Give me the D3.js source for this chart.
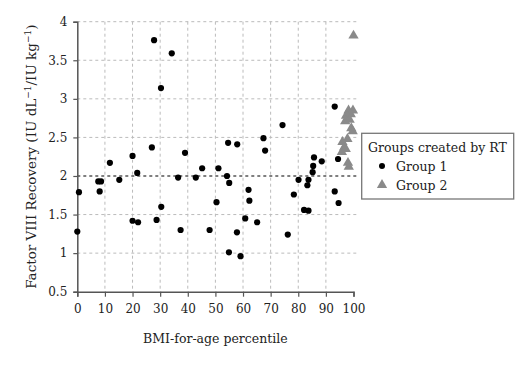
<!DOCTYPE html>
<html>
<head>
<meta charset="utf-8">
<script src="https://cdn.jsdelivr.net/npm/d3@7"></script>
<style>
  body { margin: 0; background: #fff; }
  text { font-family: "DejaVu Serif", serif; fill: #222; }
</style>
</head>
<body>
<svg id="chart" width="520" height="369"></svg>
<script>
// group 1 points: [BMI-for-age percentile, FVIII recovery]
const group1 = [
    [0, 1.28], [0.6, 1.79], [7.6, 1.93], [8.6, 1.93], [8.1, 1.80], [11.8, 2.17],
    [15.2, 1.95], [20, 2.26], [21.7, 2.04], [20, 1.42], [22, 1.40], [27, 2.37],
    [27.8, 3.76], [28.7, 1.43], [30.3, 3.14], [30.4, 1.60], [34.2, 3.59], [36.5, 1.98],
    [37.4, 1.30], [39, 2.30], [42.9, 1.98], [45.2, 2.10], [47.9, 1.30], [50.4, 1.66],
    [51.1, 2.10], [54.2, 2.00], [54.6, 2.43], [55.0, 1.91], [54.9, 1.01], [57.8, 1.27],
    [57.9, 2.41], [59.1, 0.96], [60.8, 1.45], [62, 1.82], [62.3, 1.68], [65.1, 1.40],
    [67.4, 2.49], [68, 2.33], [74.3, 2.66], [76.2, 1.24], [78.4, 1.76], [80.1, 1.95],
    [82.1, 1.56], [83.3, 1.88], [83.7, 1.95], [83.7, 1.55], [85.2, 2.05], [85.4, 2.13],
    [85.7, 2.24], [88.5, 2.19], [93.2, 2.90], [93.2, 1.80], [94.4, 2.22], [94.6, 1.65]
];
const group2 = [
    [100, 3.82], [98.2, 2.85], [99.8, 2.85], [97.3, 2.78], [99, 2.80], [97, 2.71],
    [98.6, 2.73], [99.2, 2.62], [99.7, 2.58], [97.8, 2.48], [96.0, 2.44], [96.6, 2.37],
    [95.8, 2.31], [97.2, 2.35], [98, 2.17], [98.3, 2.12]
];
const xTicks = [0, 10, 20, 30, 40, 50, 60, 70, 80, 90, 100];
const yTicks = [0.5, 1, 1.5, 2, 2.5, 3, 3.5, 4];
const legendLabels = ["Group 1", "Group 2"];

const svg = d3.select("#chart");

let x = d3.scaleLinear().domain([0, 100]).range([77.3, 353.5]);
let y = d3.scaleLinear().domain([0.5, 4]).range([291.7, 21.7]);

// grid
let grid = svg.append("g");
grid.selectAll(".hgrid")
    .data(yTicks.filter(d => d > 0.5))
    .join("line")
    .attr("x1", x(0)).attr("x2", x(101.3))
    .attr("y1", d => y(d)).attr("y2", d => y(d))
    .attr("stroke", d => d == 2 ? "#555" : "#bbb")
    .attr("stroke-width", d => d == 2 ? 1.3 : 1)
    .attr("stroke-dasharray", "3,3");

grid.selectAll(".vgrid")
    .data(xTicks.filter(d => d > 0 && d < 100))
    .join("line")
    .attr("x1", d => x(d)).attr("x2", d => x(d))
    .attr("y1", y(4)).attr("y2", y(0.5))
    .attr("stroke", "#bbb")
    .attr("stroke-dasharray", "3,3");

// axes
let xAxis = svg.append("g")
    .attr("transform", `translate(0,${y(0.5)})`)
    .call(d3.axisBottom(x).tickValues(xTicks).tickSize(5).tickPadding(8));
let yAxis = svg.append("g")
    .attr("transform", `translate(${x(0)},0)`)
    .call(d3.axisLeft(y).tickValues(yTicks).tickSize(4).tickPadding(6).tickFormat(d3.format("")));

[xAxis, yAxis].forEach(a => {
    a.select(".domain").attr("stroke", "#555").attr("stroke-width", 1.5);
    a.selectAll(".tick line").attr("stroke", "#555").attr("stroke-width", 1.2);
    a.selectAll("text").style("font-family", "DejaVu Serif, serif").style("font-size", "12px").attr("fill", "#222");
});

// points
svg.append("g").selectAll("circle")
    .data(group1)
    .join("circle")
    .attr("cx", d => x(d[0]))
    .attr("cy", d => y(d[1]))
    .attr("r", 3.1)
    .attr("fill", "#000");

let tri = d3.symbol().type(d3.symbolTriangle).size(46);
svg.append("g").selectAll("path")
    .data(group2)
    .join("path")
    .attr("d", tri)
    .attr("transform", d => `translate(${x(d[0])},${y(d[1])})`)
    .attr("fill", "#8a8a8a");

// axis titles
svg.append("text")
    .attr("x", (x(0) + x(100)) / 2)
    .attr("y", 343)
    .attr("text-anchor", "middle")
    .style("font-size", "12.5px")
    .text("BMI-for-age percentile");

let yl = svg.append("text")
    .attr("transform", `translate(36,${(y(0.5) + y(4)) / 2}) rotate(-90)`)
    .attr("text-anchor", "middle")
    .style("font-size", "13.5px");
yl.append("tspan").text("Factor VIII Recovery (IU dL");
yl.append("tspan").attr("dy", -5).style("font-size", "9px").text("\u22121");
yl.append("tspan").attr("dy", 5).text("/IU kg");
yl.append("tspan").attr("dy", -5).style("font-size", "9px").text("\u22121");
yl.append("tspan").attr("dy", 5).text(")");

// legend
let legend = svg.append("g");
legend.append("rect")
    .attr("x", 361.7).attr("y", 133.3)
    .attr("width", 152).attr("height", 65.7)
    .attr("fill", "#fff")
    .attr("stroke", "#777")
    .attr("stroke-width", 1.3);
legend.append("text")
    .attr("x", 368).attr("y", 152)
    .style("font-size", "12.5px")
    .text("Groups created by RT");
legend.append("circle").attr("cx", 382).attr("cy", 166).attr("r", 3).attr("fill", "#000");
legend.append("path").attr("d", tri).attr("transform", "translate(382,185)").attr("fill", "#8a8a8a");
legend.selectAll(".lab")
    .data(legendLabels)
    .join("text")
    .attr("x", 396)
    .attr("y", (d, i) => 170.5 + i * 19)
    .style("font-size", "12.5px")
    .text(d => d);
</script>
</body>
</html>
